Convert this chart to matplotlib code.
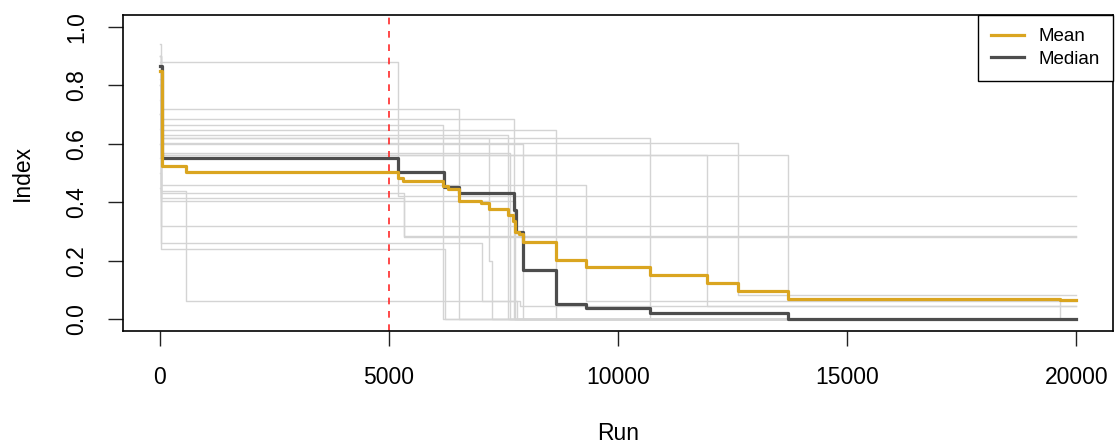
import numpy as np
import matplotlib
matplotlib.use("Agg")
import matplotlib.pyplot as plt

# ---------------------------- data ----------------------------
n_runs = 20000
burn_in = 5000

# individual chains: step breakpoints (run, value)
chain_runs = [
    [0, 20, 5210],
    [0, 20, 6530],
    [0, 20, 7720],
    [0, 20, 6190],
    [0, 20, 8640],
    [0, 20, 7600],
    [0, 20, 10690],
    [0, 20, 12610],
    [0, 20, 13700, 19640],
    [0, 20, 11950],
    [0, 20, 7930],
    [0, 20, 9310],
    [0, 20, 570, 7860],
    [0, 20, 7180, 7250],
    [0, 20, 5320],
    [0, 20],
    [0, 20, 7030, 7800],
    [0, 20, 6230],
    [0, 20, 7650],
    [0, 20, 7750],
    [0, 20, 5320],
]
chain_vals = [
    [0.94, 0.88, 0.42],
    [0.90, 0.72, 0.00],
    [0.85, 0.683, 0.00],
    [0.80, 0.665, 0.00],
    [0.90, 0.648, 0.00],
    [0.75, 0.631, 0.00],
    [0.88, 0.62, 0.00],
    [0.85, 0.603, 0.083],
    [0.82, 0.56, 0.07, 0.00],
    [0.80, 0.56, 0.045],
    [0.90, 0.60, 0.00],
    [0.70, 0.46, 0.062],
    [0.65, 0.44, 0.062, 0.045],
    [0.70, 0.62, 0.20, 0.00],
    [0.60, 0.432, 0.284],
    [0.55, 0.318],
    [0.50, 0.26, 0.062, 0.00],
    [0.45, 0.24, 0.00],
    [0.80, 0.57, 0.00],
    [0.70, 0.404, 0.00],
    [0.60, 0.415, 0.28],
]

mean_runs = [0, 40, 570, 5190, 5300, 6180, 6300, 6530, 7000, 7180, 7600, 7700,
             7760, 7830, 7930, 8650, 9310, 10700, 11950, 12610, 13700, 19640]
mean_vals = [0.847, 0.525, 0.504, 0.484, 0.474, 0.455, 0.444, 0.406, 0.396, 0.376,
             0.355, 0.336, 0.300, 0.290, 0.263, 0.201, 0.180, 0.150, 0.125, 0.097,
             0.068, 0.065]

median_runs = [0, 40, 5210, 6200, 6540, 7720, 7780, 7930, 8650, 9310, 10700, 13720]
median_vals = [0.865, 0.552, 0.503, 0.453, 0.432, 0.375, 0.300, 0.170, 0.051,
               0.040, 0.023, 0.000]

xticks = [0, 5000, 10000, 15000, 20000]
yticks = [0.0, 0.2, 0.4, 0.6, 0.8, 1.0]


def extend(runs, vals):
    # carry the last value on to the final run
    return list(runs) + [n_runs], list(vals) + [vals[-1]]


def main():
    plt.rcParams.update({
        "font.family": ["Liberation Sans", "DejaVu Sans"],
        "axes.linewidth": 1.2,
        })

    fig = plt.figure(figsize=(11.17, 4.48), dpi=100)
    ax = fig.add_axes([123/1117, 1 - 331/448, 990/1117, 316/448])

    for r, v in zip(chain_runs, chain_vals):
        x, y = extend(r, v)
        ax.step(x, y, where="post", color="#d4d4d4", lw=1.0, zorder=1)

    ax.axvline(burn_in, color="#ff2a2a", lw=1.2, ls=(0, (4, 4)), zorder=2)

    x, y = extend(mean_runs, mean_vals)
    ax.step(x, y, where="post", color="#daa520", lw=2.3, zorder=5, label="Mean")
    x, y = extend(median_runs, median_vals)
    ax.step(x, y, where="post", color="#4d4d4d", lw=2.3, zorder=4, label="Median")

    ax.set_xlim(-800, 20800)
    ax.set_ylim(-0.04, 1.04)
    ax.set_xticks(xticks)
    ax.set_xticklabels([str(t) for t in xticks])
    ax.set_yticks(yticks)
    ax.set_yticklabels(["%.1f" % t for t in yticks], rotation=90, va="center")
    ax.tick_params(length=11, width=1.0, pad=14, labelsize=16.5, color="#222222")

    fig.text(618/1117, 1 - 433/448, "Run", ha="center", va="center", fontsize=16.5)
    fig.text(22/1117, 1 - 173/448, "Index", ha="center", va="center",
             rotation=90, fontsize=16.5)

    leg = ax.legend(loc="upper right", bbox_to_anchor=(1.0, 1.0), borderaxespad=0,
                    fancybox=False, edgecolor="black", framealpha=1, fontsize=13.5,
                    handlelength=1.8, handletextpad=0.75, borderpad=0.7,
                    labelspacing=0.3)
    leg.get_frame().set_linewidth(1.0)

    fig.savefig("out.png", dpi=100)


if __name__ == "__main__":
    main()
